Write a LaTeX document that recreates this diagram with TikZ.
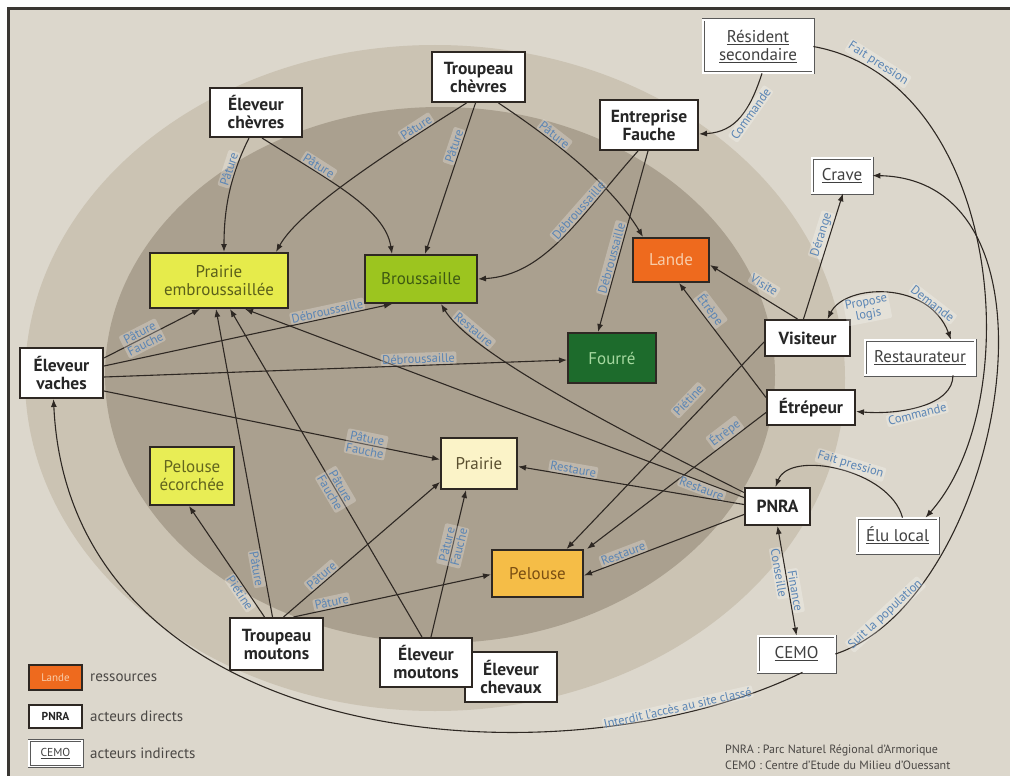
\documentclass[tikz,border=0pt]{standalone}
\usepackage{fontspec}
\setmainfont{PT Sans}
\usetikzlibrary{arrows.meta,calc}
\definecolor{linec}{HTML}{2E2823}
\definecolor{labc}{HTML}{5A85B5}
\definecolor{bgc}{HTML}{DCD7CC}
\definecolor{outc}{HTML}{CBC3B3}
\definecolor{innc}{HTML}{AAA08F}
\definecolor{framec}{HTML}{3A3733}
\definecolor{cLande}{HTML}{EE6A1E}\definecolor{tLande}{HTML}{F8CDAA}
\definecolor{cPrE}{HTML}{E6EB4B}\definecolor{tPrE}{HTML}{5B5F1A}
\definecolor{cBrou}{HTML}{9CC51F}\definecolor{tBrou}{HTML}{3E5A12}
\definecolor{cFour}{HTML}{1D6B2C}\definecolor{tFour}{HTML}{A6D9A0}
\definecolor{cPelE}{HTML}{E8ED55}\definecolor{tPelE}{HTML}{62651E}
\definecolor{cPrai}{HTML}{FBF3C8}\definecolor{tPrai}{HTML}{5B5030}
\definecolor{cPel}{HTML}{F5BD47}\definecolor{tPel}{HTML}{7A4E12}
\definecolor{legc}{HTML}{4A4744}
\tikzset{
  actor/.style={draw=linec, line width=2pt, fill=white, align=center, inner sep=0pt,
    font=\bfseries\fontsize{17.5}{18}\selectfont, text=black!85},
  indirect/.style={draw=black!65, line width=0.7pt, double=white, double distance=1.6pt,
    fill=white, align=center, inner sep=0pt, font=\fontsize{17}{18.5}\selectfont, text=black!75},
  res/.style={draw=linec, line width=2pt, align=center, inner sep=0pt,
    font=\fontsize{17}{18}\selectfont},
  edge/.style={draw=linec, line width=1.1pt, -{Latex[length=8pt,width=6pt]}},
  edgetwo/.style={draw=linec, line width=1.1pt, {Latex[length=8pt,width=6pt]}-{Latex[length=8pt,width=6pt]}},
  lab/.style={font=\fontsize{12.5}{12.5}\selectfont, text=labc, sloped, inner sep=1.5pt,
    fill=white, fill opacity=0.25, text opacity=1, rounded corners=2pt, align=center},
  legtext/.style={anchor=west, text=legc, font=\fontsize{15}{16}\selectfont, inner sep=0pt},
  foot/.style={anchor=west, text=legc, font=\fontsize{12}{13}\selectfont, inner sep=0pt}
}
\begin{document}
\begin{tikzpicture}[x=1pt,y=-1pt]
\useasboundingbox (0,0) rectangle (1010,776);
\fill[white] (0,0) rectangle (1010,776);
\fill[bgc] (8,8) rectangle (1010,776);
\fill[outc] (435,378) ellipse [x radius=410pt, y radius=333pt];
\fill[innc] (440,375) ellipse [x radius=335pt, y radius=268pt];
\draw[framec, line width=3pt] (8.5,776) -- (8.5,8.5) -- (1010,8.5);

% nodes
\node[actor, minimum width=92pt, minimum height=49pt] (ElC) at (256,112.5) {Éleveur\\chèvres};
\node[actor, minimum width=93pt, minimum height=50pt] (TrC) at (478.5,77) {Troupeau\\chèvres};
\node[actor, minimum width=98pt, minimum height=50pt] (EntF) at (649,125) {Entreprise\\Fauche};
\node[indirect, minimum width=110pt, minimum height=53pt] (Res) at (758,46.5) {\underline{Résident}\\\underline{secondaire}};
\node[indirect, minimum width=60pt, minimum height=35pt] (Crave) at (842,175.5) {\underline{Crave}};
\node[res, fill=cLande, text=tLande, minimum width=76pt, minimum height=44pt] (Lande) at (671,260) {Lande};
\node[res, fill=cPrE, text=tPrE, minimum width=138pt, minimum height=55pt] (PrE) at (219,280.5) {Prairie\\embroussaillée};
\node[res, fill=cBrou, text=tBrou, minimum width=112pt, minimum height=48pt] (Brou) at (421,279) {Broussaille};
\node[res, fill=cFour, text=tFour, minimum width=88pt, minimum height=50pt] (Four) at (612,358) {Fourré};
\node[actor, minimum width=85pt, minimum height=36pt] (Vis) at (807.5,338) {Visiteur};
\node[indirect, minimum width=110pt, minimum height=35pt] (Resto) at (920,357.5) {\underline{Restaurateur}};
\node[actor, minimum width=88pt, minimum height=35pt] (Etr) at (811,407.5) {Étrépeur};
\node[actor, minimum width=83pt, minimum height=50pt] (ElV) at (61.5,373) {Éleveur\\vaches};
\node[res, fill=cPelE, text=tPelE, minimum width=84pt, minimum height=58pt] (PelE) at (192,476) {Pelouse\\écorchée};
\node[res, fill=cPrai, text=tPrai, minimum width=76pt, minimum height=51pt] (Prai) at (479,463.5) {Prairie};
\node[actor, minimum width=65pt, minimum height=37pt] (PNRA) at (777.5,506.5) {PNRA};
\node[indirect, minimum width=81pt, minimum height=35pt] (Elu) at (897.5,535.5) {\underline{Élu local}};
\node[res, fill=cPel, text=tPel, minimum width=91pt, minimum height=47pt] (Pel) at (537.5,573.5) {Pelouse};
\node[indirect, minimum width=77pt, minimum height=36pt] (CEMO) at (796.5,654) {\underline{CEMO}};
\node[actor, minimum width=93pt, minimum height=52pt] (TrM) at (276.5,644) {Troupeau\\moutons};
\node[actor, minimum width=92pt, minimum height=50pt] (ElCh) at (511,677) {Éleveur\\chevaux};
\node[actor, minimum width=92pt, minimum height=49pt] (ElM) at (426,662.5) {Éleveur\\moutons};

% edges: goats
\draw[edge] ($(ElC.south)+(-7,0)$) .. controls +(-19,38) and +(0,-43) .. ($(PrE.north)+(5,0)$)
  node[lab, pos=0.3, above] {Pâture};
\draw[edge] ($(ElC.south)+(6,0)$) .. controls +(68,43) and +(-7,-45) .. ($(Brou.north)+(-29,0)$)
  node[lab, pos=0.28, above] {Pâture};
\draw[edge] ($(TrC.south)+(-12,0)$) .. controls +(-76,48) and +(24,-43) .. ($(PrE.north)+(57,0)$)
  node[lab, pos=0.2, above] {Pâture};
\draw[edge] ($(TrC.south)+(-3,0)$) -- ($(Brou.north)+(4,0)$)
  node[lab, pos=0.3, above] {Pâture};
\draw[edge] ($(TrC.south)+(20,0)$) .. controls +(60,40) and +(-30,-50) .. ($(Lande.north)+(-28,0)$)
  node[lab, pos=0.3, above] {Pâture};
% Entreprise Fauche
\draw[edge] ($(EntF.south)+(-11,0)$) .. controls +(-58,65) and +(68,-4) .. (Brou.east)
  node[lab, pos=0.35, above] {Débroussaille};
\draw[edge] ($(EntF.south)+(-1,0)$) -- ($(Four.north)+(-14,0)$)
  node[lab, pos=0.6, above] {Débroussaille};
% resident
\draw[edge] ($(Res.south)+(4,0)$) .. controls +(-12,37) and +(37,-2) .. ($(EntF.east)+(0,9)$)
  node[lab, pos=0.4, below] {Commande};
\draw[edge] (Res.east) .. controls +(187,34) and +(104.5,-118) .. ($(Elu.north)+(28,0)$)
  node[lab, pos=0.12, above] {Fait pression};
% CEMO
\draw[edge] (CEMO.east) .. controls +(165,-54) and +(208,4.5) .. (Crave.east)
  node[lab, pos=0.12, above] {Suit la population};
\draw[edge] ($(CEMO.south)+(6,0)$) .. controls +(-242.5,118) and +(16.5,352) .. ($(ElV.south)+(-8,0)$)
  node[lab, pos=0.15, above] {Interdit l'accès au site classé};
\draw[edgetwo] (PNRA.south) -- (CEMO.north)
  node[lab, pos=0.42, below] {Conseille}
  node[lab, pos=0.6, above] {Finance};
\draw[edge] ($(Elu.north)+(5,0)$) .. controls +(-12.5,-48) and +(14.5,-38) .. ($(PNRA.north)+(-2,0)$)
  node[lab, pos=0.45, above] {Fait pression};
% visitor / restaurateur / etrepeur
\draw[edgetwo] ($(Vis.north)+(20,0)$) .. controls +(17.5,-35) and +(-22.5,-60) .. ($(Resto.north)+(31,0)$)
  node[lab, pos=0.35, below] {Propose\\logis}
  node[lab, pos=0.78, above] {Demande};
\draw[edge] ($(Resto.south)+(33,0)$) .. controls +(0,30) and +(45,3.5) .. ($(Etr.east)+(0,4)$)
  node[lab, pos=0.55, below] {Commande};
\draw[edge] ($(Vis.north)+(-10,0)$) -- ($(Lande.east)+(0,5)$)
  node[lab, pos=0.45, above=5pt] {Visite};
\draw[edge] ($(Vis.north)+(-4,0)$) -- ($(Crave.south)+(1,0)$)
  node[lab, pos=0.65, above] {Dérange};
\draw[edge] ($(Vis.west)+(0,4)$) -- ($(Pel.north)+(29,0)$)
  node[lab, pos=0.33, above=8pt] {Piétine};
\draw[edge] ($(Etr.west)+(0,-10)$) -- ($(Lande.south)+(8,0)$)
  node[lab, pos=0.72, above] {Étrèpe};
\draw[edge] ($(Etr.west)+(0,5)$) -- ($(Pel.north east)+(3,0)$)
  node[lab, pos=0.2, above] {Étrèpe};
% PNRA
\draw[edge] ($(PNRA.west)+(0,-14)$) .. controls +(-145,-72.5) and +(29,47) .. ($(Brou.south)+(20,0)$)
  node[lab, pos=0.8, above] {Restaure};
\draw[edge] ($(PNRA.west)+(0,-9)$) -- ($(PrE.south)+(26,0)$)
  node[lab, pos=0.08, below] {Restaure};
\draw[edge] ($(PNRA.west)+(0,-2)$) -- ($(Prai.east)+(0,3)$)
  node[lab, pos=0.76, above] {Restaure};
\draw[edge] ($(PNRA.west)+(0,8)$) -- ($(Pel.east)+(0,2)$)
  node[lab, pos=0.74, above] {Restaure};
% cows
\draw[edge] ($(ElV.east)+(0,-15)$) -- ($(PrE.south)+(-19,0)$)
  node[lab, pos=0.4] {Pâture\\Fauche};
\draw[edge] ($(ElV.east)+(0,-7)$) -- ($(Brou.south)+(-29,0)$)
  node[lab, pos=0.78, above] {Débroussaille};
\draw[edge] ($(ElV.east)+(0,4)$) -- ($(Four.west)+(0,2)$)
  node[lab, pos=0.68, above] {Débroussaille};
\draw[edge] ($(ElV.east)+(0,18)$) -- ($(Prai.west)+(0,-4)$)
  node[lab, pos=0.78] {Pâture\\Fauche};
% sheep
\draw[edge] ($(TrM.north)+(-12,0)$) -- ($(PelE.south)+(-3,0)$)
  node[lab, pos=0.25, below] {Piétine};
\draw[edge] ($(TrM.north)+(-4,0)$) -- ($(PrE.south)+(-3,0)$)
  node[lab, pos=0.16, below] {Pâture};
\draw[edge] ($(TrM.north)+(7,0)$) -- ($(Prai.south west)+(0,-8)$)
  node[lab, pos=0.27, above] {Pâture};
\draw[edge] ($(TrM.north)+(17,0)$) -- ($(Pel.west)+(0,1)$)
  node[lab, pos=0.2, above] {Pâture};
\draw[edge] ($(ElM.north)+(-4,0)$) -- ($(PrE.south)+(11,0)$)
  node[lab, pos=0.45] {Pâture\\Fauche};
\draw[edge] ($(ElM.north)+(5,0)$) -- ($(Prai.south)+(-13,0)$)
  node[lab, pos=0.62] {Pâture\\Fauche};

% legend
\node[res, fill=cLande, text=tLande, minimum width=53pt, minimum height=25pt,
  font=\fontsize{11}{12}\selectfont] (LgL) at (55.5,677.5) {Lande};
\node[legtext] (LgLt) at (90,677.5) {ressources};
\node[actor, minimum width=53pt, minimum height=23pt,
  font=\bfseries\fontsize{11.5}{12}\selectfont] (LgP) at (55.5,716.5) {PNRA};
\node[legtext] (LgPt) at (90,716.5) {acteurs directs};
\node[indirect, minimum width=53pt, minimum height=26pt,
  font=\fontsize{11.5}{12}\selectfont] (LgC) at (55.5,753.5) {\underline{CEMO}};
\node[legtext] (LgCt) at (90,753.5) {acteurs indirects};
\node[foot] (F1) at (725,750) {PNRA : Parc Naturel Régional d'Armorique};
\node[foot] (F2) at (725,765) {CEMO : Centre d'Etude du Milieu d'Ouessant};
\end{tikzpicture}
\end{document}
